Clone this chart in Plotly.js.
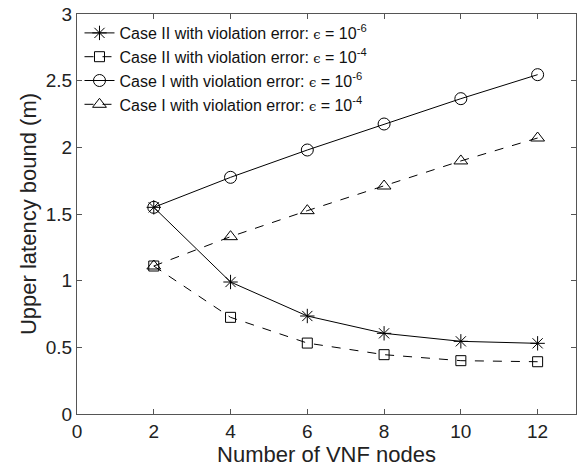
<!DOCTYPE html>
<html>
<head>
<meta charset="utf-8">
<script src="https://cdn.plot.ly/plotly-3.0.1.min.js"></script>
<style>html,body{margin:0;padding:0;background:#fff;}#chart{width:578px;height:470px;}</style>
</head>
<body>
<div id="chart"></div>
<script>
const nodes = [2, 4, 6, 8, 10, 12];
const caseII_e6 = [1.55, 0.99, 0.735, 0.605, 0.545, 0.53];
const caseII_e4 = [1.11, 0.725, 0.532, 0.445, 0.40, 0.392];
const caseI_e6 = [1.55, 1.775, 1.98, 2.175, 2.365, 2.545];
const caseI_e4 = [1.11, 1.33, 1.525, 1.71, 1.898, 2.07];
const eps = '<span style="font-family:\'DejaVu Serif\',serif;font-size:13px">ϵ</span>';
const names = [
  'Case II with violation error: ' + eps + ' = 10<sup>-6</sup>',
  'Case II with violation error: ' + eps + ' = 10<sup>-4</sup>',
  'Case I with violation error: ' + eps + ' = 10<sup>-6</sup>',
  'Case I with violation error: ' + eps + ' = 10<sup>-4</sup>'
];
const xTicks = [0, 2, 4, 6, 8, 10, 12];
const yTicks = [0, 0.5, 1, 1.5, 2, 2.5, 3];
const yTickText = ['0', '0.5', '1', '1.5', '2', '2.5', '3'];

function tr(y, name, symbol, dash, size) {
  return {
    x: nodes, y: y, name: name, type: 'scatter', mode: 'lines+markers',
    line: {color: '#000', width: 1, dash: dash},
    marker: {symbol: symbol, size: size, color: '#000', line: {color: '#000', width: 1}}
  };
}
const data = [
  tr(caseII_e6, names[0], 'asterisk-open', 'solid', 12),
  tr(caseII_e4, names[1], 'square-open', 'dash', 10),
  tr(caseI_e6, names[2], 'circle-open', 'solid', 12),
  tr(caseI_e4, names[3], 'triangle-up-open', 'dash', 12)
];
const FONT = 'Liberation Sans, Arial, Helvetica, sans-serif';
const axisCommon = {
  showgrid: false, zeroline: false, showline: true, linecolor: '#555', linewidth: 1,
  mirror: 'ticks', ticks: 'inside', ticklen: 5, tickcolor: '#555',
  tickfont: {family: FONT, size: 19, color: '#222'}
};
const layout = {
  width: 578, height: 470,
  margin: {l: 77, r: 2, t: 14, b: 56},
  paper_bgcolor: '#fff', plot_bgcolor: '#fff',
  showlegend: true,
  legend: {x: 0.005, y: 0.995, xanchor: 'left', yanchor: 'top', bgcolor: 'rgba(255,255,255,0)',
           font: {family: FONT, size: 16, color: '#111'}},
  xaxis: Object.assign({}, axisCommon, {range: [0, 13], tickvals: xTicks,
    title: {text: 'Number of VNF nodes', font: {family: FONT, size: 22, color: '#222'}, standoff: 0}}),
  yaxis: Object.assign({}, axisCommon, {range: [0, 3], tickvals: yTicks, ticktext: yTickText,
    title: {text: 'Upper latency bound (m)', font: {family: FONT, size: 22, color: '#222'}, standoff: 3}})
};
Plotly.newPlot('chart', data, layout, {displayModeBar: false, staticPlot: true});
</script>
</body>
</html>
